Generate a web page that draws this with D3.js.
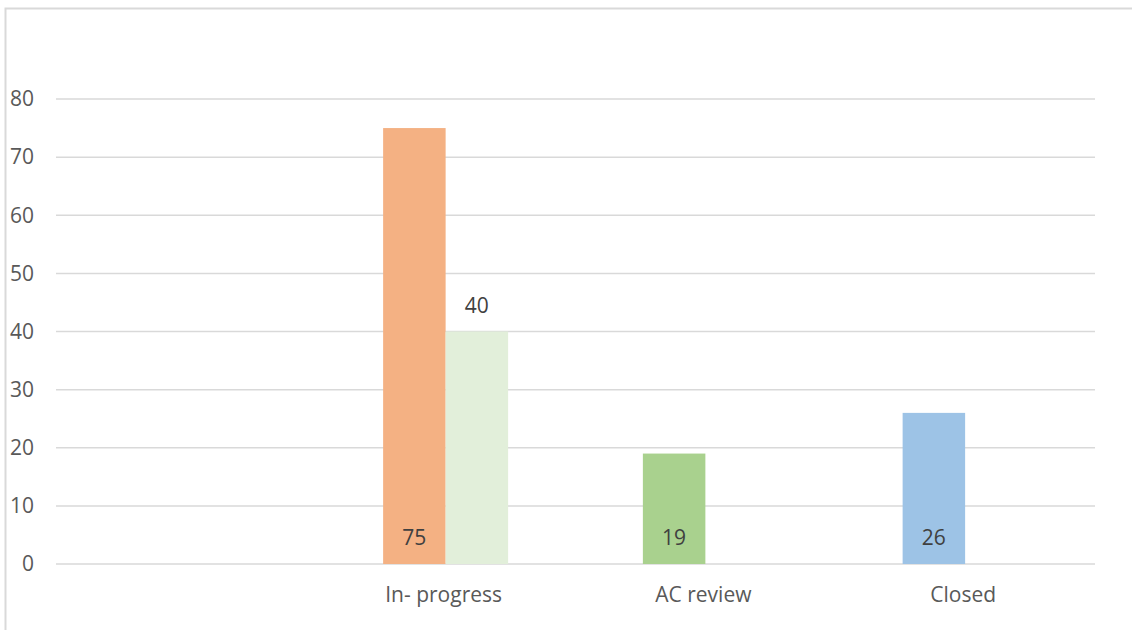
<!DOCTYPE html>
<html>
<head>
<meta charset="utf-8">
<script src="https://cdn.jsdelivr.net/npm/d3@7"></script>
<style>
  body { margin: 0; background: #fff; }
  svg { display: block; font-family: "Open Sans", "Noto Sans", sans-serif; }
</style>
</head>
<body>
<svg id="chart"></svg>
<script>
const categories = ["", "In- progress", "AC review", "Closed"];
const seriesNames = ["status", "pending"];
const statusValues = [null, 75, 19, 26];
const statusColors = ["#F4B183", "#F4B183", "#A9D18E", "#9DC3E6"];
const pendingValues = [null, 40, null, null];
const pendingColor = "#E2EFDA";
const yTicks = [0, 10, 20, 30, 40, 50, 60, 70, 80];

const W = 1132, H = 630;
const plot = {left: 56, right: 1095, top: 99, bottom: 564};

const svg = d3.select("#chart").attr("width", W).attr("height", H);

// chart area border (only left + top visible in the crop)
svg.append("rect")
    .attr("x", 5.5).attr("y", 8.5)
    .attr("width", W + 20).attr("height", H + 20)
    .attr("fill", "none")
    .attr("stroke", "#d9d9d9")
    .attr("stroke-width", 2);

const x0 = d3.scaleBand().domain(categories).range([plot.left, plot.right]).padding(0);
const x1 = d3.scaleBand().domain(seriesNames).range([0, x0.bandwidth()])
    .paddingInner(0).paddingOuter(1.078);
const y = d3.scaleLinear().domain([0, 80]).range([plot.bottom, plot.top]);

// gridlines
svg.append("g").selectAll("line")
    .data(yTicks)
    .enter().append("line")
    .attr("x1", plot.left).attr("x2", plot.right)
    .attr("y1", d => y(d)).attr("y2", d => y(d))
    .attr("stroke", "#d9d9d9")
    .attr("stroke-width", 1.5);

// y tick labels
svg.append("g").selectAll("text")
    .data(yTicks)
    .enter().append("text")
    .attr("x", 34)
    .attr("y", d => y(d))
    .attr("dy", "0.35em")
    .attr("text-anchor", "end")
    .attr("fill", "#595959")
    .style("font-size", "21px")
    .text(d => d);

// x category labels
svg.append("g").selectAll("text")
    .data(categories)
    .enter().append("text")
    .attr("x", d => x0(d) + x0.bandwidth() / 2 - 2)
    .attr("y", 595)
    .attr("dy", "0.35em")
    .attr("text-anchor", "middle")
    .attr("fill", "#595959")
    .style("font-size", "21px")
    .text(d => d);

const statusData = categories.map((c, i) => ({cat: c, v: statusValues[i], color: statusColors[i]}))
    .filter(d => d.v != null);
const pendingData = categories.map((c, i) => ({cat: c, v: pendingValues[i]}))
    .filter(d => d.v != null);

svg.append("g").selectAll("rect")
    .data(statusData)
    .enter().append("rect")
    .attr("x", d => x0(d.cat) + x1("status"))
    .attr("y", d => y(d.v))
    .attr("width", x1.bandwidth())
    .attr("height", d => y(0) - y(d.v))
    .attr("fill", d => d.color);

svg.append("g").selectAll("rect")
    .data(pendingData)
    .enter().append("rect")
    .attr("x", d => x0(d.cat) + x1("pending"))
    .attr("y", d => y(d.v))
    .attr("width", x1.bandwidth())
    .attr("height", d => y(0) - y(d.v))
    .attr("fill", pendingColor);

// data labels: inside base for first series, outside end for second
svg.append("g").selectAll("text")
    .data(statusData)
    .enter().append("text")
    .attr("x", d => x0(d.cat) + x1("status") + x1.bandwidth() / 2)
    .attr("y", y(0) - 26)
    .attr("dy", "0.35em")
    .attr("text-anchor", "middle")
    .attr("fill", "#404040")
    .style("font-size", "21px")
    .text(d => d.v);

svg.append("g").selectAll("text")
    .data(pendingData)
    .enter().append("text")
    .attr("x", d => x0(d.cat) + x1("pending") + x1.bandwidth() / 2)
    .attr("y", d => y(d.v) - 26)
    .attr("dy", "0.35em")
    .attr("text-anchor", "middle")
    .attr("fill", "#404040")
    .style("font-size", "21px")
    .text(d => d.v);
</script>
</body>
</html>
